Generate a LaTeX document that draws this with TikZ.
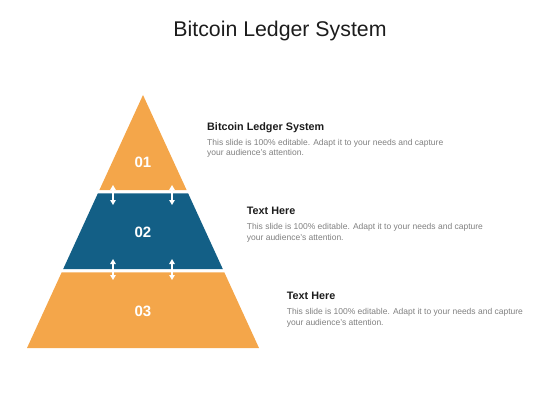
\documentclass[tikz,border=0pt]{standalone}
\usepackage{fontspec}
\setmainfont{Liberation Sans}
\usetikzlibrary{arrows.meta}
\definecolor{orng}{HTML}{F4A64A}
\definecolor{blu}{HTML}{135F86}
\definecolor{bodygray}{HTML}{808080}
\definecolor{headblack}{HTML}{1C1C1C}

\begin{document}
\begin{tikzpicture}[x=1pt, y=-1pt,
  >={Triangle[length=5pt, width=5.5pt]},
  num/.style={text=white, font=\fontsize{15}{17}\selectfont\bfseries},
  head/.style={anchor=base west, inner sep=0pt, text=headblack, font=\fontsize{10.8}{13}\selectfont\bfseries},
  body/.style={anchor=north west, inner sep=0pt, align=left, text=bodygray, font=\fontsize{8.5}{10.5}\selectfont},
  arw/.style={white, line width=1.3pt}]
\useasboundingbox (0,0) rectangle (560,420);

\node [anchor=base, text=headblack, font=\fontsize{21.3}{25}\selectfont] (t) at (280,36.7) {Bitcoin Ledger System};

\fill [orng] (143,95) -- (186.6,190) -- (99.4,190) -- cycle;
\fill [blu] (97.9,193.3) -- (188.1,193.3) -- (222.8,269) -- (63.2,269) -- cycle;
\fill [orng] (61.7,272.3) -- (224.3,272.3) -- (259,348) -- (27,348) -- cycle;

\node [num] (1) at (143,162.5) {01};
\node [num] (2) at (143,232.5) {02};
\node [num] (3) at (143,311) {03};

\coordinate (a1) at (113,185);
\coordinate (a2) at (113,205);
\coordinate (a3) at (172,185);
\coordinate (a4) at (172,205);
\coordinate (a5) at (113,259);
\coordinate (a6) at (113,280);
\coordinate (a7) at (172,259);
\coordinate (a8) at (172,280);
\draw [<->, arw] (a1) -- (a2);
\draw [<->, arw] (a3) -- (a4);
\draw [<->, arw] (a5) -- (a6);
\draw [<->, arw] (a7) -- (a8);

\node [head] (h1) at (207,130) {Bitcoin Ledger System};
\node [body] (b1) at (207,138.9) {This slide is 100\% editable. Adapt it to your needs and capture\\your audience's attention.};
\node [head] (h2) at (246.7,214.6) {Text Here};
\node [body] (b2) at (246.7,223.5) {This slide is 100\% editable. Adapt it to your needs and capture\\your audience's attention.};
\node [head] (h3) at (286.7,299.6) {Text Here};
\node [body] (b3) at (286.7,308.5) {This slide is 100\% editable. Adapt it to your needs and capture\\your audience's attention.};

\end{tikzpicture}
\end{document}
